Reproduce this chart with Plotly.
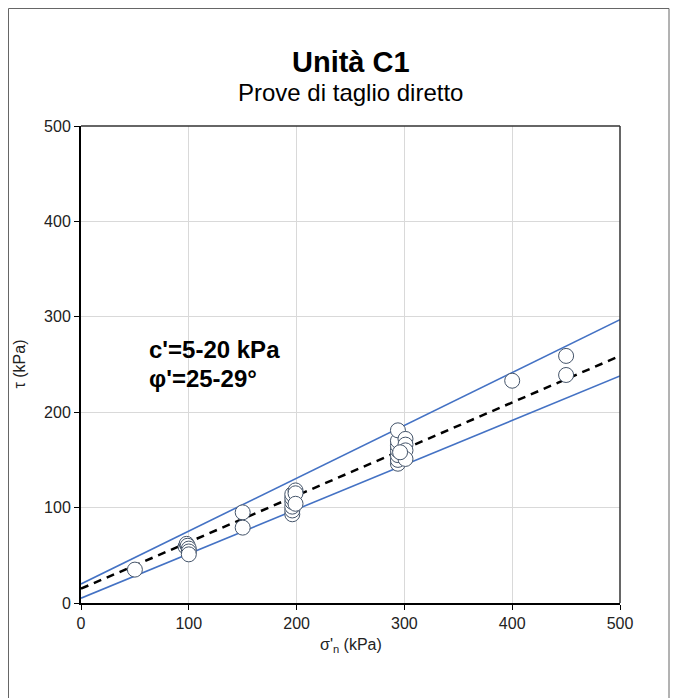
import plotly.graph_objects as go

# ---- data ----
sigma_n = [50, 97, 98, 99, 100, 100, 100,
           150, 150,
           196, 196, 196, 196, 196, 196, 199, 199, 199,
           294, 294, 294, 294, 294, 294, 294, 301, 301, 301, 301, 296,
           400, 450, 450]
tau = [35, 59, 62, 60, 57, 54, 51,
       95, 79,
       93, 97, 101, 106, 110, 114, 118, 115, 104,
       146, 150, 155, 160, 165, 170, 181, 172, 166, 160, 151, 158,
       233, 259, 239]

line_x = [0, 500]
upper_env = [20, 297]    # c'=20 kPa, phi'=29°
lower_env = [5, 238]     # c'=5 kPa, phi'=25°
mean_env = [15, 259]     # mean envelope

x_ticks = [0, 100, 200, 300, 400, 500]
y_ticks = [0, 100, 200, 300, 400, 500]

FONT = "Liberation Sans, Arial, sans-serif"

fig = go.Figure()
fig.add_trace(go.Scatter(x=line_x, y=upper_env, mode="lines",
                         line=dict(color="#4472C4", width=1.6), showlegend=False))
fig.add_trace(go.Scatter(x=line_x, y=lower_env, mode="lines",
                         line=dict(color="#4472C4", width=1.6), showlegend=False))
fig.add_trace(go.Scatter(x=line_x, y=mean_env, mode="lines",
                         line=dict(color="black", width=2.5, dash="8px,6px"), showlegend=False))
fig.add_trace(go.Scatter(x=sigma_n, y=tau, mode="markers",
                         marker=dict(symbol="circle", size=15, color="white",
                                     line=dict(color="#44546A", width=1)),
                         showlegend=False))

W, H = 678, 698
L, T = 73, 118
R = W - 612
B = H - 595
pw, ph = W - L - R, H - T - B

def px_x(p):
    return (p - L) / pw

def px_y(p):
    return (H - B - p) / ph

fig.update_layout(
    width=W, height=H,
    margin=dict(l=L, r=R, t=T, b=B),
    paper_bgcolor="white", plot_bgcolor="white",
    font=dict(family=FONT, color="#222222"),
    showlegend=False,
    xaxis=dict(range=[0, 500], tickvals=x_ticks, ticktext=[str(v) for v in x_ticks],
               showgrid=True, gridcolor="#D9D9D9", gridwidth=1,
               showline=True, linecolor="black", linewidth=2,
               ticks="outside", ticklen=5, tickcolor="black", tickwidth=1,
               tickfont=dict(size=16, family=FONT, color="#222222"),
               zeroline=False, fixedrange=True),
    yaxis=dict(range=[0, 500], tickvals=y_ticks, ticktext=[str(v) for v in y_ticks],
               showgrid=True, gridcolor="#D9D9D9", gridwidth=1,
               showline=True, linecolor="black", linewidth=2,
               ticks="outside", ticklen=5, tickcolor="black", tickwidth=1,
               tickfont=dict(size=16, family=FONT, color="#222222"),
               zeroline=False, fixedrange=True),
    shapes=[
        # top and right plot frame
        dict(type="line", xref="paper", yref="paper", x0=0, x1=1, y0=1, y1=1,
             line=dict(color="#333333", width=1.5)),
        dict(type="line", xref="paper", yref="paper", x0=1, x1=1, y0=0, y1=1,
             line=dict(color="#333333", width=1.5)),
        # outer chart border
        dict(type="rect", xref="paper", yref="paper",
             x0=px_x(0.5), x1=px_x(661), y0=px_y(720), y1=px_y(0.5),
             line=dict(color="#666666", width=1), layer="below"),
    ],
    annotations=[
        dict(text="<b>Unità C1</b>", xref="paper", yref="paper", x=0.5, y=px_y(54),
             showarrow=False, font=dict(size=29, family=FONT, color="black"),
             xanchor="center", yanchor="middle"),
        dict(text="Prove di taglio diretto", xref="paper", yref="paper", x=0.5, y=px_y(84),
             showarrow=False, font=dict(size=24, family=FONT, color="black"),
             xanchor="center", yanchor="middle"),
        dict(text="σ'<sub>n</sub> (kPa)", xref="paper", yref="paper", x=0.5, y=px_y(637),
             showarrow=False, font=dict(size=16, family=FONT, color="#222222"),
             xanchor="center", yanchor="middle"),
        dict(text="τ (kPa)", xref="paper", yref="paper", x=px_x(11), y=0.5,
             showarrow=False, textangle=-90, font=dict(size=16, family=FONT, color="#222222"),
             xanchor="center", yanchor="middle"),
        dict(text="<b>c'=5-20 kPa</b>", xref="x", yref="y", x=61, y=266,
             showarrow=False, font=dict(size=24, family=FONT, color="black"),
             xanchor="left", yanchor="middle"),
        dict(text="<b>φ'=25-29°</b>", xref="x", yref="y", x=61, y=235,
             showarrow=False, font=dict(size=24, family=FONT, color="black"),
             xanchor="left", yanchor="middle"),
    ],
)

fig.write_html("out.html")
